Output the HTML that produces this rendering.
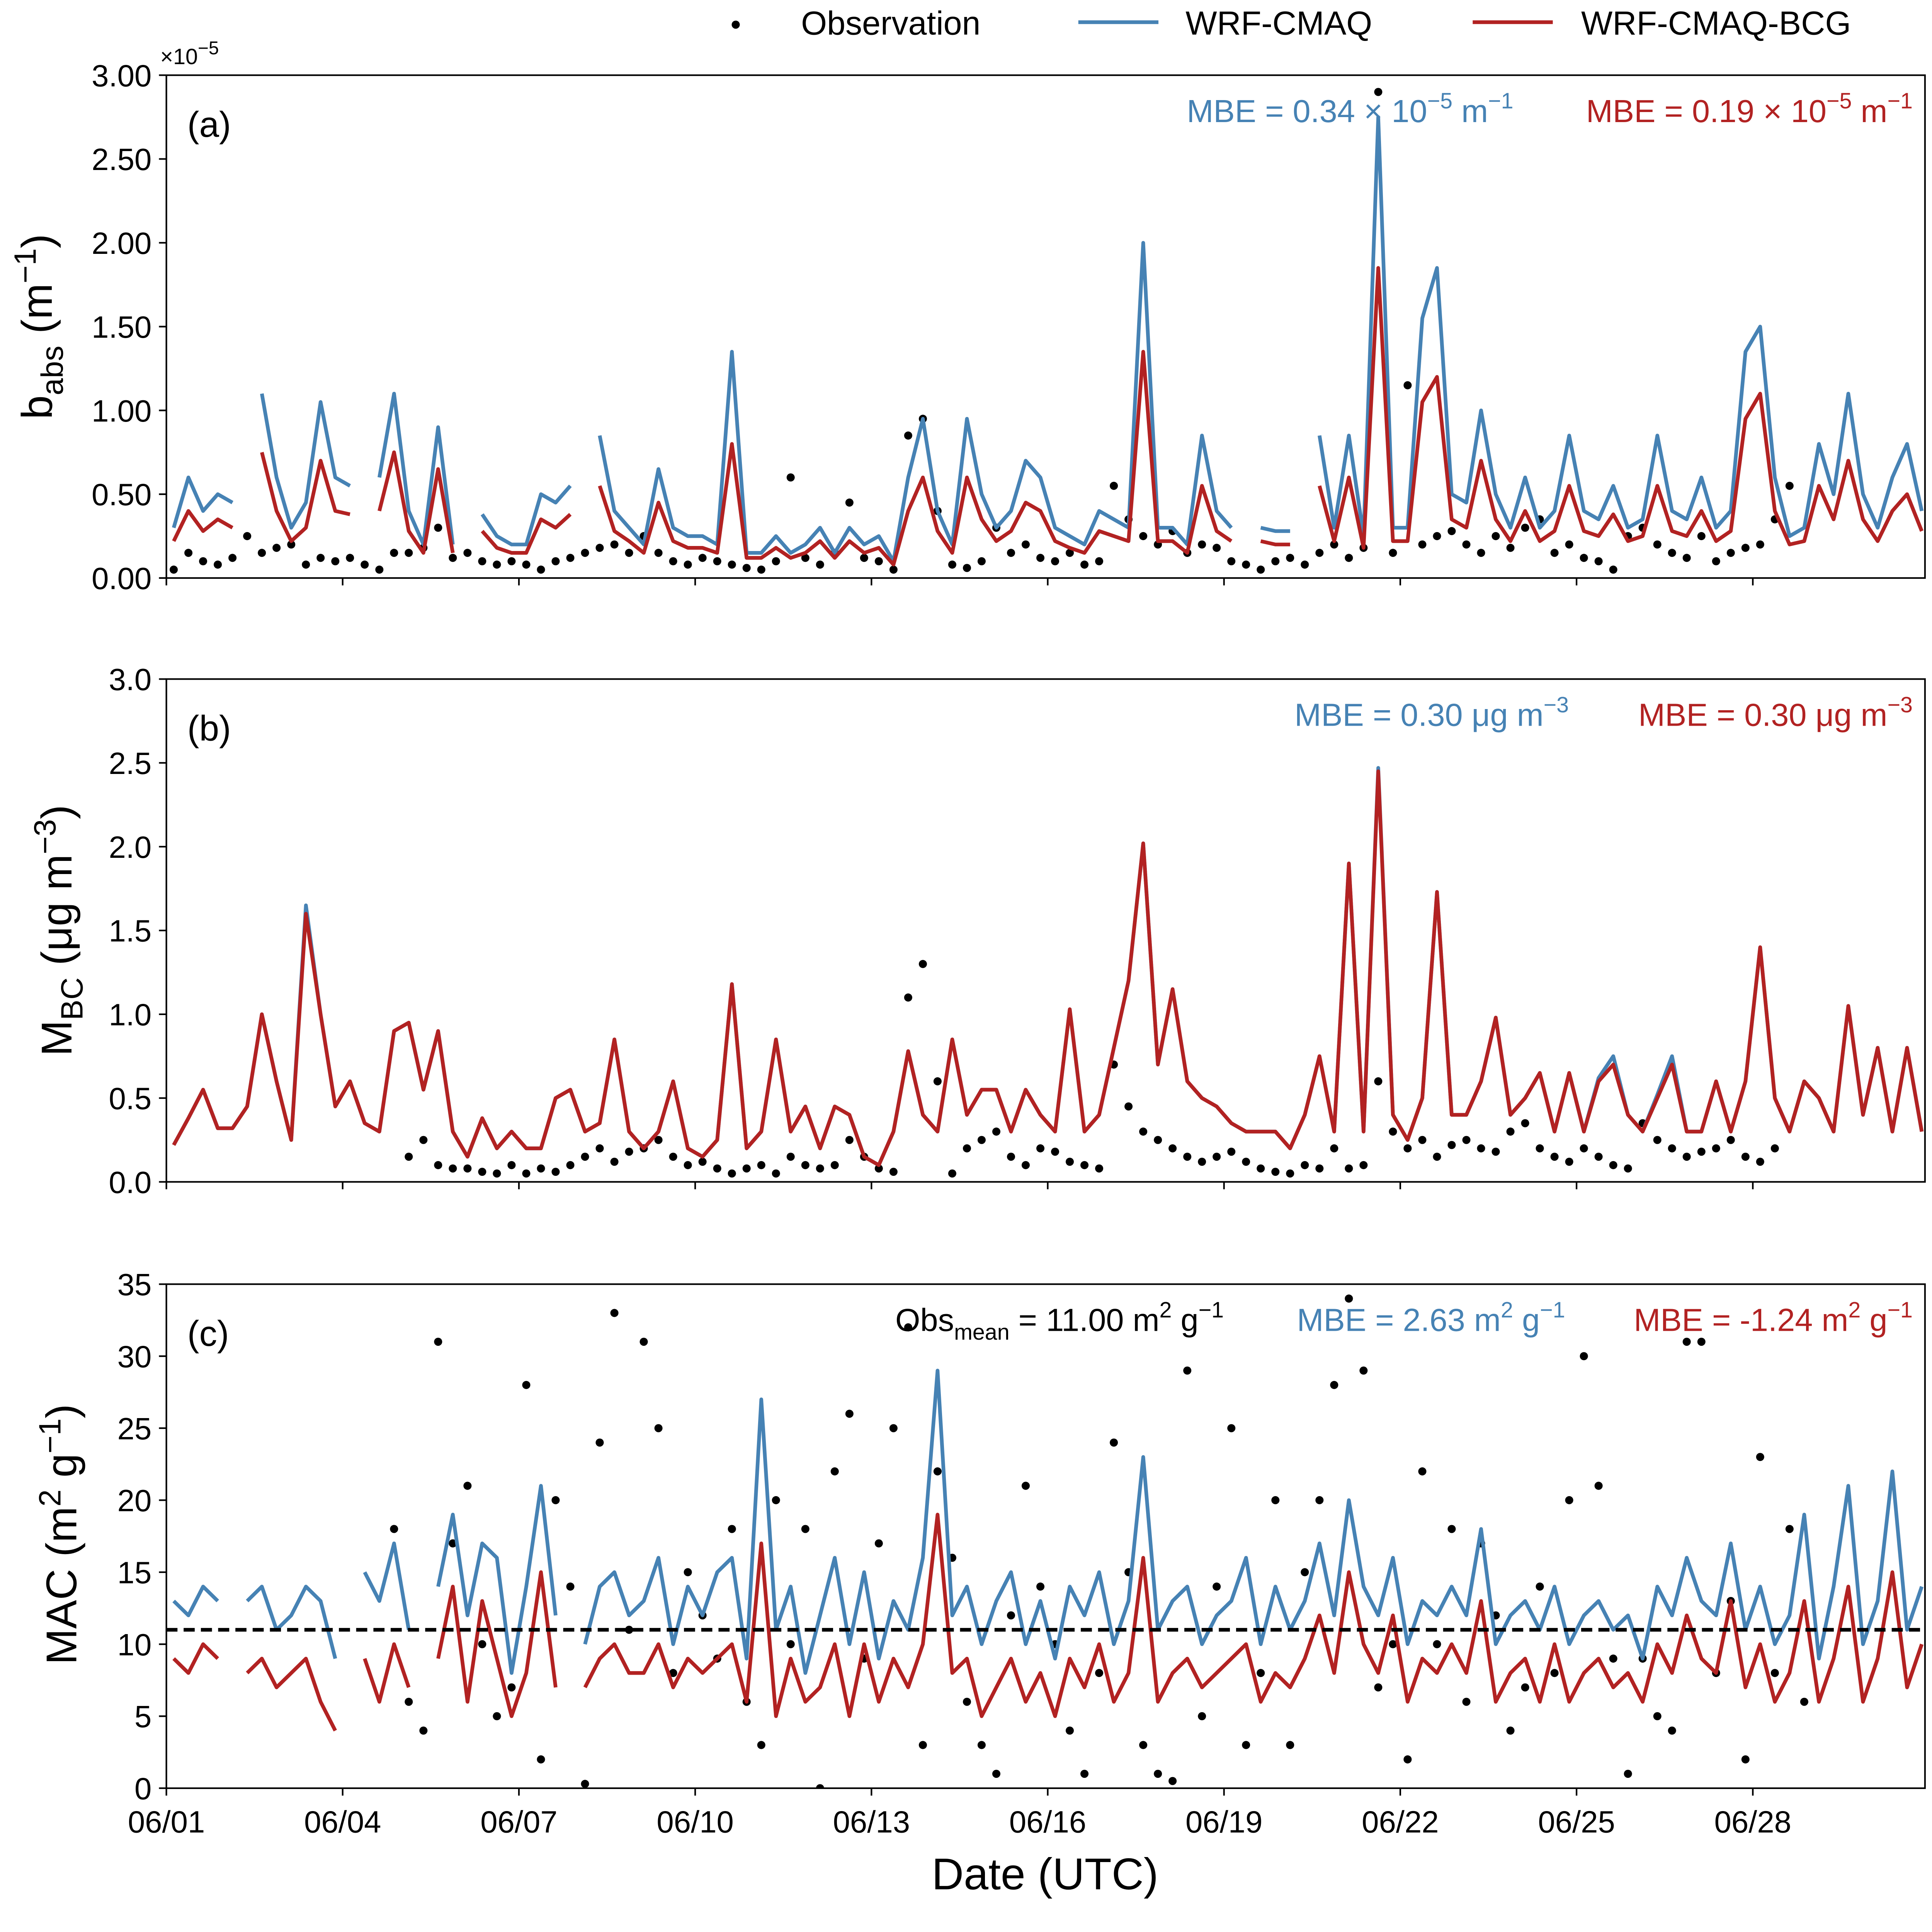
<!DOCTYPE html>
<html><head><meta charset="utf-8"><style>
html,body{margin:0;padding:0;background:#fff;overflow:hidden;width:5111px;height:5047px;}
svg{display:block;font-family:"Liberation Sans",sans-serif;}
</style></head><body>
<svg id="chart" width="5111" height="5047" viewBox="0 0 1602.5 1582.4" xmlns="http://www.w3.org/2000/svg"></svg>
<script>
// ---- data (4 values per day: 00,06,12,18 UTC), null = missing ----
const tickLabels = ["06/01","06/04","06/07","06/10","06/13","06/16","06/19","06/22","06/25","06/28"];
const aTicks = ["0.00","0.50","1.00","1.50","2.00","2.50","3.00"];
const bTicks = ["0.0","0.5","1.0","1.5","2.0","2.5","3.0"];
const cTicks = ["0","5","10","15","20","25","30","35"];
const obsMean = 11.0;
const aBlue = [.30,.60,.40,.50, .45,null,1.10,.60, .30,.45,1.05,.60, .55,null,.60,1.10, .40,.20,.90,.20,
 null,.38,.25,.20, .20,.50,.45,.55, null,.85,.40,.30, .20,.65,.30,.25, .25,.20,1.35,.15,
 .15,.25,.15,.20, .30,.15,.30,.20, .25,.10,.60,.95, .40,.20,.95,.50, .30,.40,.70,.60,
 .30,.25,.20,.40, .35,.30,2.00,.30, .30,.20,.85,.40, .30,null,.30,.28, .28,null,.85,.30,
 .85,.25,2.75,.30, .30,1.55,1.85,.50, .45,1.00,.50,.30, .60,.30,.40,.85, .40,.35,.55,.30,
 .35,.85,.40,.35, .60,.30,.40,1.35, 1.50,.60,.25,.30, .80,.50,1.10,.50, .30,.60,.80,.40];
const aRed = [.22,.40,.28,.35, .30,null,.75,.40, .22,.30,.70,.40, .38,null,.40,.75, .28,.15,.65,.15,
 null,.28,.18,.15, .15,.35,.30,.38, null,.55,.28,.22, .15,.45,.22,.18, .18,.15,.80,.12,
 .12,.18,.12,.15, .22,.12,.22,.15, .18,.08,.40,.60, .28,.15,.60,.35, .22,.28,.45,.40,
 .22,.18,.15,.28, .25,.22,1.35,.22, .22,.15,.55,.28, .22,null,.22,.20, .20,null,.55,.22,
 .60,.18,1.85,.22, .22,1.05,1.20,.35, .30,.70,.35,.22, .40,.22,.28,.55, .28,.25,.38,.22,
 .25,.55,.28,.25, .40,.22,.28,.95, 1.10,.40,.20,.22, .55,.35,.70,.35, .22,.40,.50,.28];
const aObs = [.05,.15,.10,.08, .12,.25,.15,.18, .20,.08,.12,.10, .12,.08,.05,.15, .15,.18,.30,.12,
 .15,.10,.08,.10, .08,.05,.10,.12, .15,.18,.20,.15, .25,.15,.10,.08, .12,.10,.08,.06,
 .05,.10,.60,.12, .08,.15,.45,.12, .10,.05,.85,.95, .40,.08,.06,.10, .30,.15,.20,.12,
 .10,.15,.08,.10, .55,.35,.25,.20, .28,.15,.20,.18, .10,.08,.05,.10, .12,.08,.15,.20,
 .12,.18,2.90,.15, 1.15,.20,.25,.28, .20,.15,.25,.18, .30,.35,.15,.20, .12,.10,.05,.25,
 .30,.20,.15,.12, .25,.10,.15,.18, .20,.35,.55,null, null,null,null,null, null,null,null,null];
const bRed = [.22,.38,.55,.32, .32,.45,1.00,.60, .25,1.60,1.00,.45, .60,.35,.30,.90, .95,.55,.90,.30,
 .15,.38,.20,.30, .20,.20,.50,.55, .30,.35,.85,.30, .20,.30,.60,.20, .15,.25,1.18,.20,
 .30,.85,.30,.45, .20,.45,.40,.15, .10,.30,.78,.40, .30,.85,.40,.55, .55,.30,.55,.40,
 .30,1.03,.30,.40, .80,1.20,2.02,.70, 1.15,.60,.50,.45, .35,.30,.30,.30, .20,.40,.75,.30,
 1.90,.30,2.45,.40, .25,.50,1.73,.40, .40,.60,.98,.40, .50,.65,.30,.65, .30,.60,.70,.40,
 .30,.50,.70,.30, .30,.60,.30,.60, 1.40,.50,.30,.60, .50,.30,1.05,.40, .80,.30,.80,.30];
const bBlue = [.22,.38,.55,.32, .32,.45,1.00,.60, .25,1.65,1.00,.45, .60,.35,.30,.90, .95,.55,.90,.30,
 .15,.38,.20,.30, .20,.20,.50,.55, .30,.35,.85,.30, .20,.30,.60,.20, .15,.25,1.18,.20,
 .30,.85,.30,.45, .20,.45,.40,.15, .10,.30,.78,.40, .30,.85,.40,.55, .55,.30,.55,.40,
 .30,1.03,.30,.40, .80,1.20,2.02,.70, 1.15,.60,.50,.45, .35,.30,.30,.30, .20,.40,.75,.30,
 1.90,.30,2.47,.40, .25,.50,1.73,.40, .40,.60,.98,.40, .50,.65,.30,.65, .30,.62,.75,.40,
 .30,.52,.75,.30, .30,.60,.30,.60, 1.40,.50,.30,.60, .50,.30,1.05,.40, .80,.30,.80,.30];
const bObs = [null,null,null,null, null,null,null,null, null,null,null,null, null,null,null,null, .15,.25,.10,.08,
 .08,.06,.05,.10, .05,.08,.06,.10, .15,.20,.12,.18, .20,.25,.15,.10, .12,.08,.05,.08,
 .10,.05,.15,.10, .08,.10,.25,.15, .08,.06,1.10,1.30, .60,.05,.20,.25, .30,.15,.10,.20,
 .18,.12,.10,.08, .70,.45,.30,.25, .20,.15,.12,.15, .18,.12,.08,.06, .05,.10,.08,.20,
 .08,.10,.60,.30, .20,.25,.15,.22, .25,.20,.18,.30, .35,.20,.15,.12, .20,.15,.10,.08,
 .35,.25,.20,.15, .18,.20,.25,.15, .12,.20,null,null, null,null,null,null, null,null,null,null];
const cBlue = [13,12,14,13, null,13,14,11, 12,14,13,9, null,15,13,17, 11,null,14,19,
 12,17,16,8, 14,21,12,null, 10,14,15,12, 13,16,10,14, 12,15,16,9,
 27,11,14,8, 12,16,10,15, 9,13,11,16, 29,12,14,10, 13,15,10,13,
 9,14,12,15, 10,13,23,11, 13,14,10,12, 13,16,10,14, 11,13,17,12,
 20,14,12,16, 10,13,12,14, 12,18,10,12, 13,11,14,10, 12,13,11,12,
 9,14,12,16, 13,12,17,11, 14,10,12,19, 9,14,21,10, 13,22,11,14];
const cRed = [9,8,10,9, null,8,9,7, 8,9,6,4, null,9,6,10, 7,null,9,14,
 6,13,9,5, 8,15,7,null, 7,9,10,8, 8,10,7,9, 8,9,10,6,
 17,5,9,6, 7,10,5,10, 6,9,7,10, 19,8,9,5, 7,9,6,8,
 5,9,7,10, 6,8,16,6, 8,9,7,8, 9,10,6,8, 7,9,12,8,
 15,10,8,12, 6,9,8,10, 8,13,6,8, 9,6,10,6, 8,9,7,8,
 6,10,8,12, 9,8,13,7, 10,6,8,13, 6,9,14,6, 9,15,7,10];
const cObs = [null,null,null,null, null,null,null,null, null,null,null,null, null,null,null,18, 6,4,31,17,
 21,10,5,7, 28,2,20,14, 0.3,24,33,11, 31,25,8,15, 12,9,18,6,
 3,20,10,18, 0,22,26,9, 17,25,32,3, 22,16,6,3, 1,12,21,14,
 10,4,1,8, 24,15,3,1, 0.5,29,5,14, 25,3,8,20, 3,15,20,28,
 34,29,7,10, 2,22,10,18, 6,17,12,4, 7,14,8,20, 30,21,9,1,
 9,5,4,31, 31,8,13,2, 23,8,18,6, null,null,null,null, null,null,null,null];

// ---- layout ----
const NS = "http://www.w3.org/2000/svg";
const svg = document.getElementById("chart");
const X0 = 135, X1 = 1562, DAYS = 29.93;
const BLUE = "#4682b4", RED = "#b22222";
function xs(day){ return X0 + day/DAYS*(X1-X0); }
function mk(tag, attrs, parent){ const e=document.createElementNS(NS,tag); for(const k in attrs) e.setAttribute(k,attrs[k]); (parent||svg).appendChild(e); return e; }
function txt(s, x, y, size, anchor, fill, parent){ const t=mk("text",{x:x,y:y,"font-size":size,"text-anchor":anchor||"start",fill:fill||"#000"},parent); t.innerHTML=s; return t; }

const panels = [
 {id:"a", top:61, bot:469, max:3.0, ticks:aTicks, series:[[aBlue,BLUE,"wrf-cmaq-line"],[aRed,RED,"wrf-cmaq-bcg-line"]], obs:aObs},
 {id:"b", top:551, bot:959, max:3.0, ticks:bTicks, series:[[bBlue,BLUE,"wrf-cmaq-line"],[bRed,RED,"wrf-cmaq-bcg-line"]], obs:bObs},
 {id:"c", top:1042, bot:1451, max:35, ticks:cTicks, series:[[cBlue,BLUE,"wrf-cmaq-line"],[cRed,RED,"wrf-cmaq-bcg-line"]], obs:cObs}
];

panels.forEach(p=>{
  const g = mk("g",{});
  
  
  const ys = v => p.bot - v/p.max*(p.bot-p.top);
  const cp = mk("clipPath",{id:"clip"+p.id},g); mk("rect",{x:X0,y:p.top,width:X1-X0,height:p.bot-p.top},cp);
  const plot = mk("g",{"clip-path":"url(#clip"+p.id+")"},g);
  p.obs.forEach((v,i)=>{ if(v===null) return;
    const c = mk("circle",{cx:xs(i/4+0.125),cy:ys(v),r:3.3,fill:"#000"},plot);
    
    
  });
  p.series.forEach(([arr,col,name])=>{
    let d="", pen=false;
    arr.forEach((v,i)=>{ if(v===null){pen=false;return;} d += (pen?"L":"M")+xs(i/4+0.125).toFixed(2)+","+ys(v).toFixed(2); pen=true; });
    const path = mk("path",{d:d,fill:"none",stroke:col,"stroke-width":3,"stroke-linejoin":"round"},plot);
    
    
  });
  if(p.id==="c"){
    const l = mk("line",{x1:X0,x2:X1,y1:ys(obsMean),y2:ys(obsMean),stroke:"#000","stroke-width":3,"stroke-dasharray":"9,5"},plot);
    
    
  }
  const fr = mk("rect",{x:X0,y:p.top,width:X1-X0,height:p.bot-p.top,fill:"none",stroke:"#000","stroke-width":1.3},g);
  
  
  p.ticks.forEach(s=>{ const v=parseFloat(s), y=ys(v);
    mk("line",{x1:X0-6,x2:X0,y1:y,y2:y,stroke:"#000","stroke-width":1.3},g);
    const t = txt(s, X0-12, y+9, 25, "end", "#000", g);
    
    
  });
  tickLabels.forEach((s,k)=>{ const x=xs(k*3);
    mk("line",{x1:x,x2:x,y1:p.bot,y2:p.bot+6,stroke:"#000","stroke-width":1.3},g);
    if(p.id==="c"){ const t=txt(s,x,p.bot+36,25,"middle","#000",g);
      
       }
  });
  const lab = txt("("+p.id+")", 152, p.top+50, 29, "start", "#000", g);
  
  
});

function named(el,n){   return el; }
named(txt('×10<tspan dy="-8" font-size="15">−5</tspan>',130,52,18),'axis-offset-label');
named(txt('MBE = 0.34 × 10<tspan dy="-11" font-size="18">−5</tspan><tspan dy="11"> m</tspan><tspan dy="-11" font-size="18">−1</tspan>',1228,99,26,"end",BLUE),'mbe-wrf-cmaq-a');
named(txt('MBE = 0.19 × 10<tspan dy="-11" font-size="18">−5</tspan><tspan dy="11"> m</tspan><tspan dy="-11" font-size="18">−1</tspan>',1552,99,26,"end",RED),'mbe-bcg-a');
named(txt('MBE = 0.30 μg m<tspan dy="-11" font-size="18">−3</tspan>',1273,589,26,"end",BLUE),'mbe-wrf-cmaq-b');
named(txt('MBE = 0.30 μg m<tspan dy="-11" font-size="18">−3</tspan>',1552,589,26,"end",RED),'mbe-bcg-b');
named(txt('Obs<tspan dy="7" font-size="18">mean</tspan><tspan dy="-7"> = 11.00 m</tspan><tspan dy="-11" font-size="18">2</tspan><tspan dy="11"> g</tspan><tspan dy="-11" font-size="18">−1</tspan>',993,1080,26,"end","#000"),'obs-mean-label');
named(txt('MBE = 2.63 m<tspan dy="-11" font-size="18">2</tspan><tspan dy="11"> g</tspan><tspan dy="-11" font-size="18">−1</tspan>',1270,1080,26,"end",BLUE),'mbe-wrf-cmaq-c');
named(txt('MBE = -1.24 m<tspan dy="-11" font-size="18">2</tspan><tspan dy="11"> g</tspan><tspan dy="-11" font-size="18">−1</tspan>',1552,1080,26,"end",RED),'mbe-bcg-c');

function ytitle(html,x,y,name){ const t=txt(html,0,0,35,"middle","#000"); t.setAttribute("transform","translate("+x+","+y+") rotate(-90)"); named(t,name); }
ytitle('b<tspan dy="9" font-size="25">abs</tspan><tspan dy="-9"> (m</tspan><tspan dy="-13" font-size="25">−1</tspan><tspan dy="13">)</tspan>',42,265,'y-axis-title-a');
ytitle('M<tspan dy="9" font-size="25">BC</tspan><tspan dy="-9"> (μg m</tspan><tspan dy="-13" font-size="25">−3</tspan><tspan dy="13">)</tspan>',58,755,'y-axis-title-b');
ytitle('MAC (m<tspan dy="-13" font-size="25">2</tspan><tspan dy="13"> g</tspan><tspan dy="-13" font-size="25">−1</tspan><tspan dy="13">)</tspan>',62,1245,'y-axis-title-c');
named(txt('Date (UTC)',848,1533,36,"middle"),'x-axis-title');

const lg = mk("g",{});  
named(mk("circle",{cx:597,cy:20,r:3.3,fill:"#000"},lg),'legend-observation-marker');
named(txt('Observation',650,28,27,"start","#000",lg),'legend-observation-label');
named(mk("line",{x1:875,x2:940,y1:18,y2:18,stroke:BLUE,"stroke-width":3},lg),'legend-wrf-cmaq-line');
named(txt('WRF-CMAQ',962,28,27,"start","#000",lg),'legend-wrf-cmaq-label');
named(mk("line",{x1:1195,x2:1260,y1:18,y2:18,stroke:RED,"stroke-width":3},lg),'legend-bcg-line');
named(txt('WRF-CMAQ-BCG',1283,28,27,"start","#000",lg),'legend-bcg-label');
</script>
</body></html>
